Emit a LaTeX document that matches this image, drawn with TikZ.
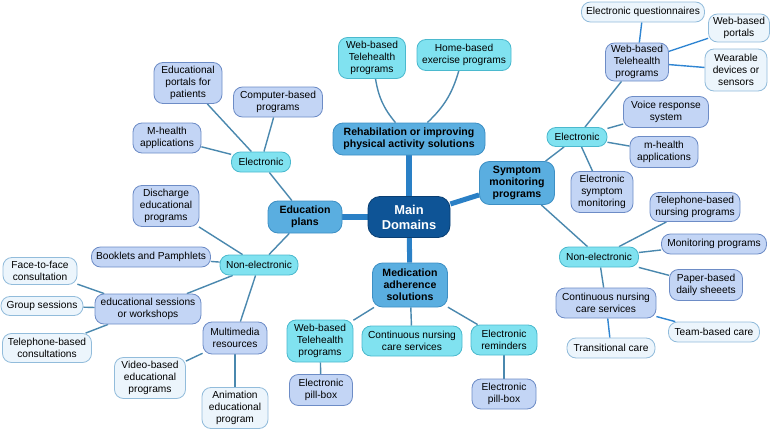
\documentclass[tikz,border=0pt]{standalone}
\usepackage{fontspec}
\setmainfont{Liberation Sans}
\usetikzlibrary{backgrounds}

\definecolor{rootfill}{HTML}{0E5496}
\definecolor{rootdraw}{HTML}{0A3F73}
\definecolor{domfill}{HTML}{5AAEE0}
\definecolor{domdraw}{HTML}{3D8FC4}
\definecolor{grpfill}{HTML}{80E2F0}
\definecolor{grpdraw}{HTML}{4BB9CE}
\definecolor{itemfill}{HTML}{C3D5F5}
\definecolor{itemdraw}{HTML}{6D8CC6}
\definecolor{leaffill}{HTML}{ECF5FC}
\definecolor{leafdraw}{HTML}{92BCDB}
\definecolor{trunk}{HTML}{2A80C6}
\definecolor{branch}{HTML}{4A88AE}
\definecolor{twig}{HTML}{2F85D2}

\begin{document}
\begin{tikzpicture}[x=0.3mm, y=-0.3mm,
    box/.style={draw, line width=0.7pt, rounded corners=2.7mm, align=center, inner sep=1pt, font=\fontsize{8.7}{10}\selectfont},
    rootbox/.style={box, draw=rootdraw, fill=rootfill, text=white, rounded corners=3.6mm, font=\fontsize{11}{12.8}\selectfont\bfseries},
    dombox/.style={box, draw=domdraw, fill=domfill, rounded corners=3mm, font=\fontsize{9}{10.4}\selectfont\bfseries},
    grpbox/.style={box, draw=grpdraw, fill=grpfill},
    itembox/.style={box, draw=itemdraw, fill=itemfill},
    leafbox/.style={box, draw=leafdraw, fill=leaffill},
    sz/.style 2 args={minimum width=#1*0.3mm, minimum height=#2*0.3mm},
    trunkline/.style={draw=trunk, line width=4.3pt},
    branchline/.style={draw=branch, line width=1.2pt},
    twigline/.style={draw=twig, line width=1.2pt}
  ]
  \useasboundingbox (0,0) rectangle (780,430);

  % centre and domains
  \node[rootbox, sz={82}{41}] (root) at (409,217) {Main\\Domains};
  \node[dombox, sz={152}{32}] (rehab) at (409,139) {Rehabilation or improving\\physical activity solutions};
  \node[dombox, sz={75}{43}] (symptom) at (517,183) {Symptom\\monitoring\\programs};
  \node[dombox, sz={74}{32}] (edu) at (305,217) {Education\\plans};
  \node[dombox, sz={75}{44}] (med) at (410,285) {Medication\\adherence\\solutions};

  % rehabilitation
  \node[grpbox, sz={67}{41}] (rwebtele) at (372,58) {Web-based\\Telehealth\\programs};
  \node[grpbox, sz={94}{31}] (rhome) at (464,55) {Home-based\\exercise programs};

  % education
  \node[grpbox, sz={59}{20}] (eelec) at (261,162) {Electronic};
  \node[grpbox, sz={78}{20}] (enonel) at (259,265) {Non-electronic};
  \node[itembox, sz={68}{41}] (eportal) at (188,83) {Educational\\portals for\\patients};
  \node[itembox, sz={89}{30}] (ecomp) at (278,102) {Computer-based\\programs};
  \node[itembox, sz={68}{30}] (emhealth) at (167,138) {M-health\\applications};
  \node[itembox, sz={66}{41}] (edisch) at (166,206) {Discharge\\educational\\programs};
  \node[itembox, sz={119}{20}] (ebook) at (151,257) {Booklets and Pamphlets};
  \node[itembox, sz={106}{30}] (esess) at (148,309) {educational sessions\\or workshops};
  \node[itembox, sz={64}{32}] (emulti) at (235,338) {Multimedia\\resources};
  \node[leafbox, sz={74}{27}] (eface) at (40,271) {Face-to-face\\consultation};
  \node[leafbox, sz={82}{19}] (egroup) at (42,306) {Group sessions};
  \node[leafbox, sz={89}{29}] (etel) at (47,348) {Telephone-based\\consultations};
  \node[leafbox, sz={71}{41}] (evideo) at (150,378) {Video-based\\educational\\programs};
  \node[leafbox, sz={66}{41}] (eanim) at (235,408) {Animation\\educational\\program};

  % medication
  \node[grpbox, sz={66}{42}] (mwebtele) at (320,341) {Web-based\\Telehealth\\programs};
  \node[grpbox, sz={100}{30}] (mnurse) at (412,341) {Continuous nursing\\care services};
  \node[grpbox, sz={66}{30}] (mremind) at (504,340) {Electronic\\reminders};
  \node[itembox, sz={63}{31}] (mpill) at (321,390) {Electronic\\pill-box};
  \node[itembox, sz={64}{30}] (mpillb) at (504,394) {Electronic\\pill-box};

  % symptom monitoring
  \node[grpbox, sz={60}{19}] (selec) at (577,137) {Electronic};
  \node[grpbox, sz={79}{20}] (snonel) at (599,257) {Non-electronic};
  \node[itembox, sz={63}{38}] (swebtele) at (637,62) {Web-based\\Telehealth\\programs};
  \node[itembox, sz={85}{31}] (svoice) at (666,112) {Voice response\\system};
  \node[itembox, sz={68}{31}] (smhealth) at (664,152) {m-health\\applications};
  \node[itembox, sz={62}{41}] (sesym) at (602,192) {Electronic\\symptom\\monitoring};
  \node[itembox, sz={90}{29}] (stel) at (695,207) {Telephone-based\\nursing programs};
  \node[itembox, sz={105}{20}] (smonit) at (714,244) {Monitoring programs};
  \node[itembox, sz={73}{31}] (spaper) at (706,285) {Paper-based\\daily sheeets};
  \node[itembox, sz={100}{30}] (snurse) at (606,303) {Continuous nursing\\care services};
  \node[leafbox, sz={123}{20}] (squest) at (643,12) {Electronic questionnaires};
  \node[leafbox, sz={61}{28}] (sportal) at (739,28) {Web-based\\portals};
  \node[leafbox, sz={62}{42}] (swear) at (736,70) {Wearable\\devices or\\sensors};
  \node[leafbox, sz={91}{20}] (steam) at (714,332) {Team-based care};
  \node[leafbox, sz={88}{20}] (strans) at (611,348) {Transitional care};

  \begin{scope}[on background layer]
    \draw[trunkline] (root) -- (rehab);
    \draw[trunkline] (root) -- (symptom);
    \draw[trunkline] (root) -- (edu);
    \draw[trunkline] (root) -- (med);

    \draw[branchline] (rehab) to[bend left=15] (rwebtele);
    \draw[branchline] (rehab) to[bend right=15] (rhome);

    \draw[branchline] (edu) -- (eelec);
    \draw[branchline] (edu) -- (enonel);
    \draw[branchline] (eelec) -- (eportal);
    \draw[branchline] (eelec) -- (ecomp);
    \draw[branchline] (eelec) -- (emhealth);
    \draw[branchline] (enonel) -- (edisch);
    \draw[branchline] (enonel) -- (ebook);
    \draw[branchline] (enonel) -- (esess);
    \draw[branchline] (enonel) -- (emulti);
    \draw[branchline] (esess) -- (eface);
    \draw[branchline] (esess) -- (egroup);
    \draw[branchline] (esess) -- (etel);
    \draw[branchline] (emulti) -- (evideo);
    \draw[branchline] (emulti) -- (eanim);

    \draw[branchline] (med) -- (mwebtele);
    \draw[branchline] (med) -- (mnurse);
    \draw[branchline] (med) -- (mremind);
    \draw[branchline] (mwebtele) -- (mpill);
    \draw[branchline] (mremind) -- (mpillb);

    \draw[branchline] (symptom) -- (selec);
    \draw[branchline] (symptom) -- (snonel);
    \draw[branchline] (selec) -- (swebtele);
    \draw[branchline] (selec) -- (svoice);
    \draw[branchline] (selec) -- (smhealth);
    \draw[branchline] (selec) -- (sesym);
    \draw[twigline] (swebtele) -- (squest);
    \draw[twigline] (swebtele) -- (sportal);
    \draw[twigline] (swebtele) -- (swear);
    \draw[branchline] (snonel) -- (stel);
    \draw[branchline] (snonel) -- (smonit);
    \draw[branchline] (snonel) -- (spaper);
    \draw[branchline] (snonel) -- (snurse);
    \draw[twigline] (snurse) -- (steam);
    \draw[twigline] (snurse) -- (strans);
  \end{scope}
\end{tikzpicture}
\end{document}
